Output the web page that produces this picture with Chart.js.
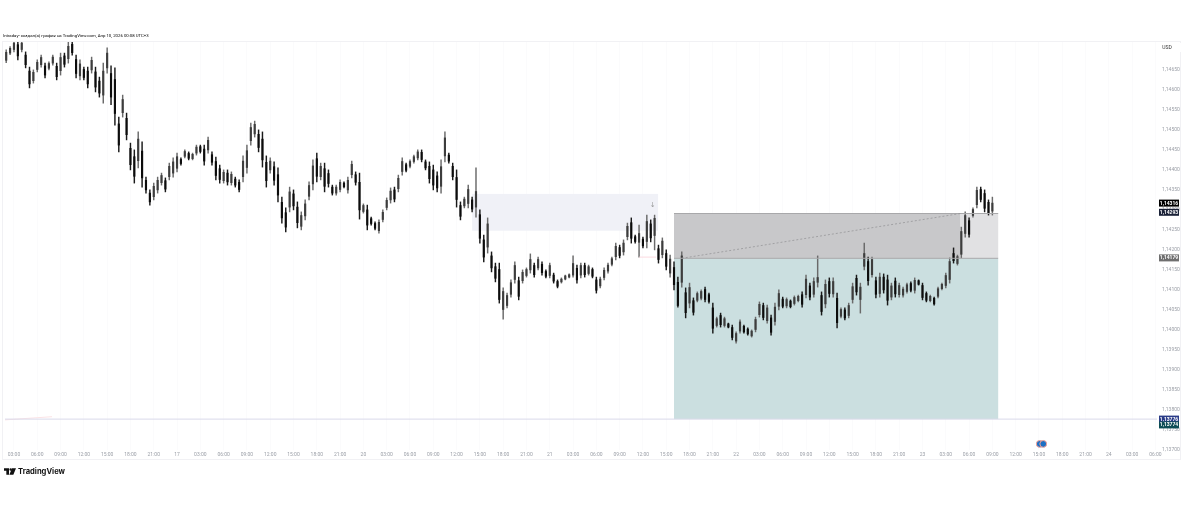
<!DOCTYPE html>
<html lang="ru">
<head>
<meta charset="UTF-8">
<title>Intraday</title>
<script src="https://cdn.jsdelivr.net/npm/chart.js"></script>
<style>
  html, body { margin: 0; padding: 0; background: #fff; overflow: hidden; }
  #wrap { position: relative; width: 1184px; height: 513px; }
  canvas { position: absolute; left: 0; top: 0; }
  #head { position: absolute; left: 3px; top: 33px; font: 4.3px Roboto, sans-serif; color: #000; white-space: nowrap; }
  #logo { position: absolute; left: 4px; top: 465px; height: 13px; display: flex; align-items: center; }
  #logo span { font: 700 7.6px Inter, sans-serif; color: #111; margin-left: 2px; }
</style>
</head>
<body>
<div id="wrap">
  <canvas id="chart" width="1184" height="513"></canvas>
  <div id="head">Intraday- создал(а) график на TradingView.com, Апр 10, 2026 00:08 UTC+3</div>
  <div id="logo">
    <svg width="12" height="7" viewBox="0 0 36 20"><path d="M0 0h15v20H7V8H0z M24 0h12l-8 20H16z" fill="#111"/><circle cx="20" cy="4" r="3.6" fill="#111"/></svg>
    <span>TradingView</span>
  </div>
</div>
<script>
// 30 minute slots, one candle per slot
const highs = [
1.14699,1.14707,1.14722,1.14722,1.14722,1.14694,1.14656,1.14649,1.14674,1.14686,
1.14666,1.14669,1.14686,1.14666,1.14691,1.14691,1.14719,1.14719,1.14686,1.14674,
1.14656,1.14656,1.14681,1.14656,1.14631,1.14666,1.14704,1.14659,1.14654,1.14531,
1.14586,1.14541,1.14466,1.14449,1.14494,1.14469,1.14381,1.14349,1.14366,1.14381,
1.14391,1.14379,1.14416,1.14429,1.14441,1.14429,1.14449,1.14444,1.14441,1.14461,
1.14461,1.14461,1.14481,1.14444,1.14431,1.14411,1.14399,1.14399,1.14394,1.14381,
1.14374,1.14434,1.14461,1.14516,1.14521,1.14499,1.14494,1.14434,1.14429,1.14419,
1.14404,1.14331,1.14304,1.14356,1.14349,1.14319,1.14294,1.14324,1.14369,1.14424,
1.14441,1.14416,1.14416,1.14399,1.14361,1.14361,1.14374,1.14369,1.14381,1.14421,
1.14394,1.14391,1.14314,1.14311,1.14281,1.14269,1.14274,1.14299,1.14329,1.14354,
1.14356,1.14386,1.14429,1.14416,1.14424,1.14436,1.14449,1.14449,1.14424,1.14419,
1.14411,1.14394,1.14424,1.14494,1.14441,1.14416,1.14399,1.14319,1.14331,1.14361,
1.14331,1.14404,1.14299,1.14236,1.14279,1.14194,1.14166,1.14166,1.14104,1.14091,
1.14124,1.14169,1.14131,1.14149,1.14154,1.14189,1.14166,1.14181,1.14169,1.14149,
1.14166,1.14141,1.14124,1.14129,1.14136,1.14139,1.14184,1.14161,1.14166,1.14166,
1.14161,1.14154,1.14131,1.14131,1.14154,1.14166,1.14181,1.14216,1.14211,1.14224,
1.14266,1.14279,1.14236,1.14261,1.14231,1.14286,1.14274,1.14286,1.14211,1.14229,
1.14199,1.14186,1.14169,1.14131,1.14194,1.14104,1.14116,1.14079,1.14094,1.14099,
1.14106,1.14091,1.14066,1.14031,1.14041,1.14031,1.14016,1.14011,1.13994,1.14024,
1.14011,1.14004,1.13999,1.14031,1.14069,1.14066,1.14061,1.14036,1.14066,1.14099,
1.14081,1.14079,1.14074,1.14084,1.14086,1.14094,1.14136,1.14116,1.14129,1.14184,
1.14094,1.14124,1.14129,1.14129,1.14091,1.14054,1.14054,1.14066,1.14116,1.14136,
1.14116,1.14216,1.14181,1.14181,1.14131,1.14141,1.14139,1.14136,1.14116,1.14129,
1.14116,1.14106,1.14116,1.14119,1.14129,1.14124,1.14116,1.14094,1.14086,1.14081,
1.14106,1.14116,1.14141,1.14179,1.14204,1.14186,1.14256,1.14294,1.14279,1.14304,
1.14356,1.14356,1.14349,1.14324,1.14331
];
const lows = [
1.14667,1.14687,1.14694,1.14674,1.14694,1.14654,1.14604,1.14616,1.14644,1.14656,
1.14629,1.14649,1.14661,1.14624,1.14636,1.14656,1.14666,1.14686,1.14629,1.14624,
1.14624,1.14604,1.14641,1.14594,1.14581,1.14566,1.14641,1.14562,1.14511,1.14444,
1.14531,1.14474,1.14399,1.14366,1.14404,1.14356,1.14341,1.14311,1.14324,1.14341,
1.14361,1.14344,1.14374,1.14381,1.14394,1.14411,1.14429,1.14424,1.14424,1.14436,
1.14441,1.14411,1.14441,1.14411,1.14374,1.14366,1.14366,1.14361,1.14361,1.14356,
1.14344,1.14369,1.14391,1.14461,1.14481,1.14444,1.14406,1.14356,1.14391,1.14361,
1.14319,1.14266,1.14244,1.14294,1.14299,1.14254,1.14249,1.14274,1.14324,1.14349,
1.14369,1.14374,1.14344,1.14356,1.14336,1.14336,1.14344,1.14354,1.14341,1.14379,
1.14361,1.14276,1.14291,1.14249,1.14261,1.14249,1.14241,1.14269,1.14299,1.14316,
1.14319,1.14344,1.14386,1.14394,1.14404,1.14416,1.14424,1.14419,1.14399,1.14366,
1.14349,1.14344,1.14341,1.14419,1.14416,1.14374,1.14306,1.14274,1.14304,1.14304,
1.14294,1.14281,1.14216,1.14169,1.14191,1.14144,1.14119,1.14066,1.14026,1.14054,
1.14081,1.14116,1.14074,1.14116,1.14131,1.14141,1.14131,1.14149,1.14136,1.14129,
1.14129,1.14116,1.14104,1.14116,1.14124,1.14129,1.14131,1.14116,1.14129,1.14131,
1.14136,1.14129,1.14091,1.14104,1.14124,1.14141,1.14159,1.14174,1.14179,1.14186,
1.14224,1.14216,1.14216,1.14181,1.14204,1.14204,1.14219,1.14199,1.14166,1.14179,
1.14149,1.14131,1.14099,1.14056,1.14106,1.14029,1.14054,1.14036,1.14069,1.14074,
1.14069,1.14066,1.13991,1.14006,1.14006,1.14006,1.14004,1.13974,1.13966,1.13991,
1.13991,1.13986,1.13981,1.13994,1.14031,1.14024,1.14016,1.13986,1.14011,1.14049,
1.14054,1.14054,1.14054,1.14061,1.14069,1.14056,1.14079,1.14074,1.14081,1.14106,
1.14036,1.14054,1.14081,1.14081,1.14004,1.14029,1.14024,1.14029,1.14066,1.14086,
1.14041,1.14149,1.14111,1.14131,1.14079,1.14081,1.14091,1.14061,1.14074,1.14081,
1.14081,1.14081,1.14091,1.14094,1.14091,1.14111,1.14074,1.14069,1.14069,1.14061,
1.14079,1.14099,1.14104,1.14116,1.14166,1.14161,1.14179,1.14231,1.14231,1.14281,
1.14304,1.14319,1.14294,1.14286,1.14286
];
const opens = [
1.14673,1.14691,1.14700,1.14712,1.14700,1.14686,1.14646,1.14622,1.14650,1.14662,
1.14659,1.14653,1.14666,1.14658,1.14647,1.14684,1.14677,1.14713,1.14675,1.14634,
1.14650,1.14646,1.14649,1.14644,1.14621,1.14586,1.14654,1.14640,1.14625,1.14514,
1.14542,1.14528,1.14453,1.14432,1.14422,1.14446,1.14373,1.14341,1.14332,1.14349,
1.14367,1.14372,1.14382,1.14391,1.14403,1.14425,1.14433,1.14440,1.14427,1.14441,
1.14457,1.14451,1.14449,1.14437,1.14420,1.14402,1.14372,1.14391,1.14367,1.14376,
1.14368,1.14382,1.14405,1.14472,1.14489,1.14488,1.14476,1.14418,1.14399,1.14407,
1.14387,1.14318,1.14292,1.14306,1.14339,1.14306,1.14258,1.14284,1.14333,1.14364,
1.14427,1.14382,1.14402,1.14390,1.14356,1.14341,1.14350,1.14366,1.14349,1.14387,
1.14387,1.14368,1.14295,1.14299,1.14277,1.14265,1.14247,1.14275,1.14305,1.14324,
1.14349,1.14352,1.14395,1.14412,1.14408,1.14420,1.14429,1.14443,1.14419,1.14408,
1.14399,1.14384,1.14358,1.14434,1.14436,1.14408,1.14380,1.14310,1.14309,1.14315,
1.14324,1.14306,1.14287,1.14224,1.14206,1.14184,1.14157,1.14150,1.14050,1.14060,
1.14088,1.14125,1.14122,1.14122,1.14135,1.14149,1.14160,1.14154,1.14163,1.14145,
1.14135,1.14136,1.14120,1.14119,1.14126,1.14131,1.14136,1.14153,1.14136,1.14160,
1.14140,1.14150,1.14124,1.14109,1.14130,1.14146,1.14163,1.14182,1.14205,1.14194,
1.14232,1.14267,1.14232,1.14218,1.14226,1.14220,1.14264,1.14235,1.14202,1.14187,
1.14190,1.14141,1.14155,1.14118,1.14118,1.14092,1.14066,1.14072,1.14073,1.14078,
1.14100,1.14087,1.14054,1.14010,1.14035,1.14010,1.14014,1.14005,1.13971,1.13996,
1.14008,1.14001,1.13984,1.14000,1.14037,1.14060,1.14022,1.14029,1.14020,1.14058,
1.14076,1.14059,1.14071,1.14065,1.14072,1.14087,1.14087,1.14109,1.14088,1.14118,
1.14085,1.14064,1.14120,1.14089,1.14078,1.14033,1.14049,1.14035,1.14075,1.14128,
1.14075,1.14158,1.14170,1.14137,1.14122,1.14090,1.14131,1.14124,1.14081,1.14121,
1.14087,1.14086,1.14095,1.14115,1.14098,1.14122,1.14110,1.14090,1.14072,1.14078,
1.14083,1.14102,1.14110,1.14125,1.14190,1.14165,1.14188,1.14240,1.14272,1.14285,
1.14312,1.14350,1.14340,1.14318,1.14296
];
const closes = [
1.14693,1.14703,1.14716,1.14684,1.14716,1.14662,1.14614,1.14643,1.14668,1.14680,
1.14636,1.14665,1.14681,1.14632,1.14680,1.14663,1.14708,1.14692,1.14640,1.14664,
1.14630,1.14614,1.14673,1.14606,1.14591,1.14646,1.14691,1.14581,1.14540,1.14461,
1.14575,1.14487,1.14412,1.14383,1.14476,1.14379,1.14349,1.14319,1.14358,1.14373,
1.14385,1.14351,1.14408,1.14419,1.14432,1.14415,1.14445,1.14428,1.14438,1.14456,
1.14445,1.14421,1.14473,1.14418,1.14385,1.14375,1.14393,1.14369,1.14388,1.14361,
1.14350,1.14421,1.14447,1.14505,1.14513,1.14455,1.14424,1.14372,1.14421,1.14373,
1.14336,1.14279,1.14256,1.14344,1.14309,1.14267,1.14285,1.14314,1.14360,1.14409,
1.14383,1.14408,1.14358,1.14365,1.14341,1.14356,1.14368,1.14357,1.14373,1.14413,
1.14368,1.14299,1.14310,1.14261,1.14265,1.14253,1.14268,1.14293,1.14323,1.14346,
1.14326,1.14378,1.14420,1.14398,1.14420,1.14432,1.14444,1.14425,1.14404,1.14377,
1.14361,1.14354,1.14407,1.14479,1.14421,1.14382,1.14325,1.14283,1.14326,1.14350,
1.14301,1.14345,1.14228,1.14181,1.14264,1.14154,1.14128,1.14075,1.14095,1.14085,
1.14117,1.14160,1.14083,1.14143,1.14150,1.14175,1.14137,1.14175,1.14142,1.14133,
1.14160,1.14121,1.14108,1.14126,1.14134,1.14137,1.14165,1.14124,1.14160,1.14137,
1.14157,1.14133,1.14098,1.14126,1.14148,1.14161,1.14177,1.14208,1.14185,1.14216,
1.14258,1.14228,1.14220,1.14240,1.14209,1.14270,1.14229,1.14278,1.14175,1.14221,
1.14158,1.14176,1.14112,1.14060,1.14184,1.14042,1.14105,1.14043,1.14090,1.14095,
1.14075,1.14070,1.14003,1.14027,1.14012,1.14027,1.14006,1.13980,1.13990,1.14019,
1.13994,1.13989,1.13996,1.14025,1.14063,1.14030,1.14054,1.13993,1.14056,1.14090,
1.14058,1.14075,1.14057,1.14080,1.14083,1.14063,1.14126,1.14081,1.14120,1.14130,
1.14045,1.14113,1.14090,1.14120,1.14017,1.14050,1.14029,1.14060,1.14107,1.14094,
1.14106,1.14190,1.14122,1.14175,1.14088,1.14131,1.14099,1.14073,1.14109,1.14089,
1.14110,1.14101,1.14112,1.14098,1.14123,1.14113,1.14080,1.14073,1.14083,1.14064,
1.14102,1.14113,1.14135,1.14170,1.14172,1.14182,1.14245,1.14285,1.14238,1.14300,
1.14348,1.14325,1.14303,1.14292,1.14316
];
const tickLabels = [
'03:00','06:00','09:00','12:00','15:00','18:00','21:00','17',
'03:00','06:00','09:00','12:00','15:00','18:00','21:00','20',
'03:00','06:00','09:00','12:00','15:00','18:00','21:00','21',
'03:00','06:00','09:00','12:00','15:00','18:00','21:00','22',
'03:00','06:00','09:00','12:00','15:00','18:00','21:00','23',
'03:00','06:00','09:00','12:00','15:00','18:00','21:00','24',
'03:00','06:00'
];

// shaded zones: [fromSlot, toSlot, topPrice, bottomPrice, colour]
const zones = [
  [120, 167.9, 1.14339, 1.14247, '#f0f1f7'],
  [172, 255.5, 1.14178, 1.13776, '#cbdfe0'],
  [172, 245.8, 1.14290, 1.14178, '#c8c8ca'],
  [245.8, 255.5, 1.14290, 1.14178, '#e1e1e3']
];
const tagPrices = [1.14316, 1.14293, 1.14179, 1.13776, 1.13774];
const tagTexts = ['1,14316', '1,14293', '1,14179', '1,13776', '1,13774'];
const tagColors = ['#000000', '#1b2238', '#6f6f6f', '#2b3c88', '#0e4e56'];

const ohlcWicks = highs.map((h, i) => ({ x: i, y: [lows[i], h] }));
const ohlcBodies = opens.map((o, i) => ({ x: i, y: [o, closes[i]] }));

const overlays = {
  id: 'overlays',
  beforeDatasetsDraw(chart) {
    const { ctx, scales: { x, y } } = chart;
    zones.forEach(z => {
      ctx.fillStyle = z[4];
      ctx.fillRect(x.getPixelForValue(z[0]), y.getPixelForValue(z[2]),
        x.getPixelForValue(z[1]) - x.getPixelForValue(z[0]), y.getPixelForValue(z[3]) - y.getPixelForValue(z[2]));
    });
  },
  afterDraw(chart) {
    const { ctx, scales: { x, y } } = chart;
    // frame
    ctx.strokeStyle = '#f1f1f4';
    ctx.lineWidth = 1;
    ctx.strokeRect(2.5, 41.5, 1178, 418);
    // small arrow over the lavender box
    ctx.fillStyle = '#9a9a9a';
    ctx.font = '7px "DejaVu Sans"';
    ctx.textAlign = 'center';
    ctx.textBaseline = 'middle';
    ctx.fillText('↓', x.getPixelForValue(166.5), y.getPixelForValue(1.14311));
    // USD box
    ctx.fillStyle = '#fff';
    ctx.fillRect(1160, 43, 21, 9);
    ctx.fillStyle = '#333';
    ctx.font = '5px Roboto';
    ctx.fillText('USD', 1167, 47.5);
    // price tags
    tagPrices.forEach((p, i) => {
      let py = y.getPixelForValue(p);
      if (i === 4) py += 5;
      ctx.fillStyle = tagColors[i];
      ctx.fillRect(1159, py - 3.5, 20, 7);
      ctx.fillStyle = '#fff';
      ctx.font = 'bold 5px Roboto';
      ctx.fillText(tagTexts[i], 1169, py + 0.2);
    });
  }
};

new Chart(document.getElementById('chart'), {
  data: {
    datasets: [
      { type: 'line', data: [{ x: 174, y: 1.14178 }, { x: 245.8, y: 1.14290 }], borderColor: '#8f8f92', borderWidth: 0.7, borderDash: [2, 2], pointRadius: 0, order: 0 },
      { type: 'line', data: [{ x: -0.3, y: 1.13776 }, { x: 296.4, y: 1.13776 }], borderColor: '#d9d9ea', borderWidth: 1, pointRadius: 0, order: 1 },
      { type: 'line', data: [{ x: 172, y: 1.14290 }, { x: 255.5, y: 1.14290 }], borderColor: '#a8a8aa', borderWidth: 1, pointRadius: 0, order: 1 },
      { type: 'line', data: [{ x: 172, y: 1.14178 }, { x: 255.5, y: 1.14178 }], borderColor: '#a8a8aa', borderWidth: 1, pointRadius: 0, order: 1 },
      { type: 'line', data: [{ x: -0.3, y: 1.13774 }, { x: 11.8, y: 1.13782 }], borderColor: '#fbe3e6', borderWidth: 1, pointRadius: 0, order: 1 },
      { type: 'line', data: [{ x: 163, y: 1.14181 }, { x: 167.4, y: 1.14181 }], borderColor: '#fbdbe0', borderWidth: 1, pointRadius: 0, order: 1 },
      { type: 'line', showLine: false, clip: false, data: [{ x: 266.2, y: 1.13714 }, { x: 267.1, y: 1.13714 }], pointRadius: 3.4, pointBackgroundColor: '#1c6fc4', pointBorderColor: '#f4a195', pointBorderWidth: 1, order: 1 },
      { type: 'bar', data: ohlcBodies, barThickness: 1.5, grouped: false, order: 3,
        backgroundColor: opens.map((o, i) => closes[i] >= o ? '#3d3d3d' : '#0c0c0c') },
      { type: 'bar', data: ohlcWicks, barThickness: 0.8, grouped: false, order: 4,
        backgroundColor: opens.map((o, i) => closes[i] >= o ? '#6a6a6a' : '#1a1a1a') }
    ]
  },
  options: {
    responsive: false,
    animation: false,
    events: [],
    layout: { padding: { left: 3, right: 0, top: 41, bottom: 53 } },
    plugins: { legend: { display: false }, tooltip: { enabled: false } },
    scales: {
      x: {
        type: 'linear',
        offset: false,
        min: -0.31,
        max: 296.4,
        afterFit(s) { s.height = 10; },
        afterBuildTicks(s) { s.ticks = tickLabels.map((_, k) => ({ value: 2 + k * 6 })); },
        grid: { color: '#fbfbfc', drawTicks: false, offset: false },
        border: { display: false },
        ticks: {
          autoSkip: false, maxRotation: 0, padding: 2, color: '#9a9ea6',
          font: { family: 'Roboto', size: 5 },
          callback: (v, i) => tickLabels[i]
        }
      },
      y: {
        position: 'right',
        min: 1.1369875,
        max: 1.1472125,
        afterFit(s) { s.width = 27; },
        grid: { display: false },
        border: { display: false },
        ticks: {
          stepSize: 0.0005, includeBounds: false, padding: -3, color: '#9a9ea6',
          font: { family: 'Roboto', size: 5 },
          callback: v => v.toFixed(5).replace('.', ',')
        }
      }
    }
  },
  plugins: [overlays]
});
</script>
</body>
</html>
